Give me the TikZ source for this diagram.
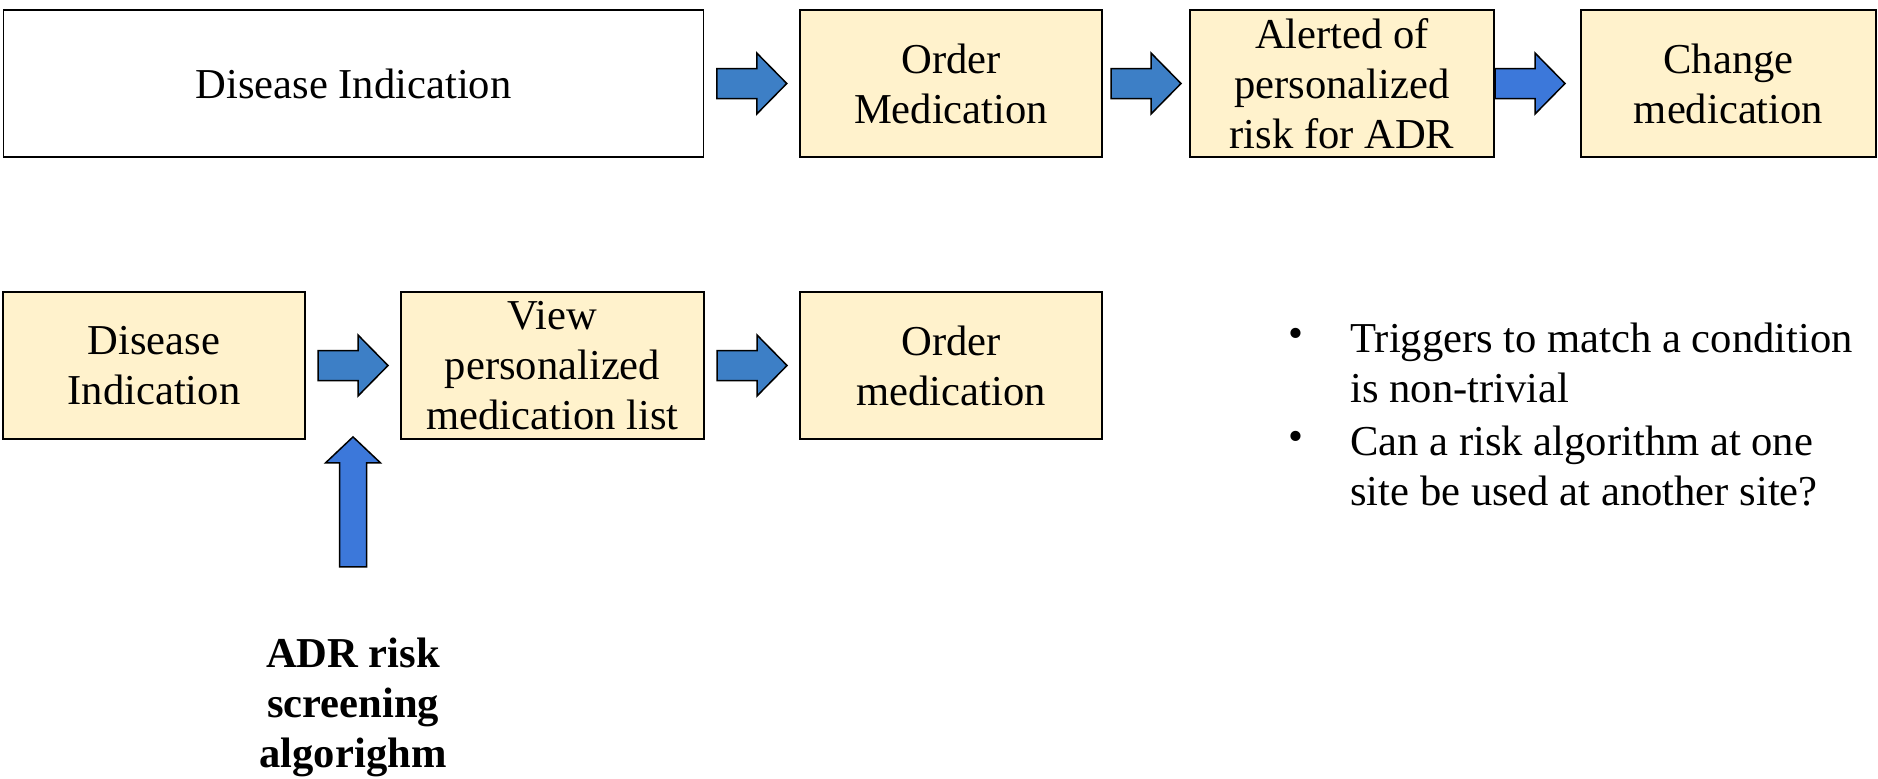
\documentclass[tikz,border=0pt]{standalone}
\usepackage{fontspec}
\setmainfont{Liberation Serif}
\usetikzlibrary{calc}

\definecolor{boxfill}{HTML}{FFF2CC}
\definecolor{arrowblue}{HTML}{3D7FC6}
\definecolor{brightblue}{HTML}{3C78DA}

\tikzset{
    stepbox/.style={draw=black, line width=0.9pt, fill=boxfill, inner sep=0pt,
        minimum height=73.5pt, align=center},
    rarrow/.pic={
        \path[pic actions] (-35,-15) -- (5,-15) -- (5,-30.5) -- (35,0)
            -- (5,30.5) -- (5,15) -- (-35,15) -- cycle;
    },
    uarrow/.pic={
        \path[pic actions] (0,0) -- (27.5,26) -- (13.5,26) -- (13.5,130)
            -- (-13.5,130) -- (-13.5,26) -- (-27.5,26) -- cycle;
    },
    blockarrow/.style={draw=black, line width=0.75pt, fill=#1}
}

\begin{document}
\begin{tikzpicture}[x=0.5pt, y=-0.5pt, font=\fontsize{21.3}{25}\selectfont]
    \useasboundingbox (0,0) rectangle (1878,778);

    % top row
    \node[stepbox, draw=black, fill=white, minimum width=350pt] (dis) at (353.5,83.5) {Disease Indication};
    \node[stepbox, minimum width=151pt] (ordA) at (951,83.5) {Order\\Medication};
    \node[stepbox, minimum width=152pt] (alert) at (1342,83.5) {Alerted of\\personalized\\risk for ADR};
    \node[stepbox, minimum width=147.5pt] (change) at (1728.5,83.5) {Change\\medication};

    \pic[blockarrow=arrowblue] at ($(dis.east)!0.5!(ordA.west)$) {rarrow};
    \pic[blockarrow=arrowblue] at ($(ordA.east)!0.5!(alert.west)$) {rarrow};
    \pic[blockarrow=brightblue] at ($(alert.east)!0.5!(change.west)+(-7.5,0)$) {rarrow};

    % bottom row
    \node[stepbox, minimum width=151pt] (dis2) at (154,365.5) {Disease\\Indication};
    \node[stepbox, minimum width=151.5pt] (view) at (552.5,365.5) {View\\personalized\\medication list};
    \node[stepbox, minimum width=151pt] (ordB) at (951,365.5) {Order\\medication};

    \pic[blockarrow=arrowblue] at ($(dis2.east)!0.5!(view.west)$) {rarrow};
    \pic[blockarrow=arrowblue] at ($(view.east)!0.5!(ordB.west)$) {rarrow};

    % screening algorithm feeding in from below
    \coordinate (tip) at ($(dis2.south east)!0.5!(view.south west)+(0,-3)$);
    \pic[blockarrow=brightblue] at (tip) {uarrow};
    \node[font=\fontsize{21.3}{25}\selectfont\bfseries, align=center] (algo) at (353,707) {ADR risk\\screening\\algorighm};

    % notes
    \node (bul1) at (1296,338) {\textbullet};
    \node[anchor=west, align=left, inner sep=0pt] (note1) at (1350,363) {Triggers to match a condition\\is non-trivial};
    \node (bul2) at (1296,441) {\textbullet};
    \node[anchor=west, align=left, inner sep=0pt] (note2) at (1350,466) {Can a risk algorithm at one\\site be used at another site?};
\end{tikzpicture}
\end{document}
